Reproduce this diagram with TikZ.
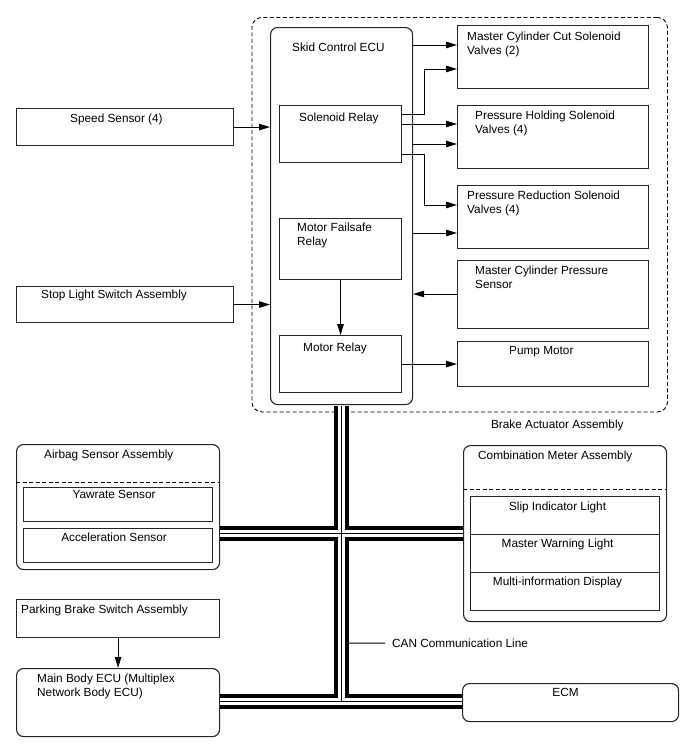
\documentclass[tikz,border=0pt]{standalone}
\usepackage{fontspec}
\setmainfont{Liberation Sans}
\usetikzlibrary{arrows.meta,calc,positioning}

\begin{document}
\begin{tikzpicture}[
  x=1pt, y=-1pt,
  >={Triangle[length=11pt,width=6.5pt]},
  font=\fontsize{11.8}{14.5}\selectfont,
  box/.style={rectangle,draw=black!85,line width=1.1pt,anchor=north west,inner sep=0pt},
  ecubox/.style={box,rounded corners=7pt},
  assy/.style={box,draw=black,line width=0.9pt,dash pattern=on 4pt off 2.5pt,rounded corners=10pt},
  sep/.style={draw=black,line width=0.9pt,dash pattern=on 4pt off 2.5pt},
  sig/.style={->,line width=1pt},
  lbl/.style={anchor=north west,inner sep=0pt,align=left},
  clbl/.style={anchor=north,inner sep=0pt,align=center}
]
\useasboundingbox (0,0) rectangle (688,755);
% brake actuator assembly
\node[assy,minimum width=415.5,minimum height=394.5] (bact) at (251.5,17) {};
\node[ecubox,minimum width=142,minimum height=377] (ecu) at (270,27) {};
\node[box,minimum width=122,minimum height=57] (solrel) at (279,105) {};
\node[box,minimum width=122,minimum height=61] (mfrel) at (279,218) {};
\node[box,minimum width=122,minimum height=57] (mrel) at (279,335) {};
\node[box,minimum width=191,minimum height=63] (mcc) at (457,25) {};
\node[box,minimum width=191,minimum height=63] (phv) at (457,105) {};
\node[box,minimum width=191,minimum height=63] (prv) at (457,185) {};
\node[box,minimum width=191,minimum height=68] (mcps) at (457,260) {};
\node[box,minimum width=191,minimum height=45] (pump) at (457,341) {};
% inputs on the left
\node[box,minimum width=217,minimum height=37] (speed) at (16,108) {};
\node[box,minimum width=217,minimum height=36] (stop) at (16,286) {};
% airbag sensor assembly
\node[ecubox,minimum width=203,minimum height=125] (airbag) at (16,444) {};
\node[box,minimum width=189,minimum height=34] (yaw) at (23,487) {};
\node[box,minimum width=189,minimum height=34] (accel) at (23,528) {};
\draw[sep] ($(airbag.north west)+(0,38)$) -- ($(airbag.north east)+(0,38)$);
% combination meter assembly
\node[ecubox,minimum width=203,minimum height=176] (combi) at (463,445) {};
\node[box,minimum width=189,minimum height=38] (slip) at (470,496) {};
\node[box,minimum width=189,minimum height=38] (mwl) at (470,534) {};
\node[box,minimum width=189,minimum height=38] (mid) at (470,572) {};
\draw[sep] ($(combi.north west)+(0,44)$) -- ($(combi.north east)+(0,44)$);
% lower row
\node[box,minimum width=203,minimum height=38] (pkb) at (16,599) {};
\node[ecubox,minimum width=203,minimum height=68] (mbecu) at (16,668) {};
\node[ecubox,minimum width=216,minimum height=38] (ecm) at (462,683) {};
% signal lines
\draw[sig] ($(ecu.north east)+(0,18)$) -- ($(mcc.north west)+(0,20)$);
\draw[sig] ($(solrel.north east)+(0,9)$) -- ++(22,0) |- ($(mcc.north west)+(0,44)$);
\draw[sig] ($(solrel.north east)+(0,19)$) -- ($(phv.north west)+(0,19)$);
\draw[sig] ($(ecu.north east)+(0,117)$) -- ($(phv.north west)+(0,39)$);
\draw[sig] ($(solrel.north east)+(0,49)$) -- ++(22,0) |- ($(prv.north west)+(0,20)$);
\draw[sig] ($(ecu.north east)+(0,206)$) -- ($(prv.north west)+(0,48)$);
\draw[sig] ($(mcps.north west)+(0,34)$) -- ($(ecu.north east)+(0,267)$);
\draw[sig] (mfrel.south) -- (mrel.north);
\draw[sig] (mrel.east) -- (pump.west);
\draw[sig] (speed.east) -- (ecu.west |- speed.east);
\draw[sig] (stop.east) -- (ecu.west |- stop.east);
\draw[sig] (pkb.south) -- (mbecu.north);
% CAN bus
\coordinate (busmid) at (340,533);
\coordinate (buslow) at (340,701.5);
\foreach \w/\c in {15/black,7/white,0.9/black}{
  \draw[line width=\w pt,draw=\c]
    ($(ecu.south)+(0,0.8)$) -- (ecu.south |- buslow)
    (airbag.east |- busmid) -- (combi.west |- busmid)
    (mbecu.east |- buslow) -- (ecm.west |- buslow);
}
\node[lbl] (canlbl) at (392,638.5) {CAN Communication Line};
\coordinate (cantap) at (347.5,643);
\draw[line width=1pt] ($(canlbl.west)+(-7,0)$) -- (cantap);
% labels
\node[lbl] at ($(ecu.north west)+(22,15.5)$) {Skid Control ECU};
\node[lbl] at ($(mcc.north west)+(10,6.5)$) {Master Cylinder Cut Solenoid\\Valves (2)};
\node[lbl] at ($(solrel.north west)+(20,7.5)$) {Solenoid Relay};
\node[lbl] at ($(phv.north west)+(18,5.5)$) {Pressure Holding Solenoid\\Valves (4)};
\node[lbl] at ($(prv.north west)+(10,5.5)$) {Pressure Reduction Solenoid\\Valves (4)};
\node[lbl] at ($(mfrel.north west)+(18,4.5)$) {Motor Failsafe\\Relay};
\node[lbl] at ($(mcps.north west)+(18,5.5)$) {Master Cylinder Pressure\\Sensor};
\node[lbl] at ($(mrel.north west)+(24,7.5)$) {Motor Relay};
\node[lbl] at ($(pump.north west)+(52,5.5)$) {Pump Motor};
\node[lbl] at ($(speed.north west)+(54,5.5)$) {Speed Sensor (4)};
\node[lbl] at ($(stop.north west)+(25,3.5)$) {Stop Light Switch Assembly};
\node[lbl] at ($(bact.south east)+(-177,7)$) {Brake Actuator Assembly};
\node[lbl] at ($(airbag.north west)+(28,5.5)$) {Airbag Sensor Assembly};
\node[clbl] at ($(yaw.north)+(-4,3.5)$) {Yawrate Sensor};
\node[clbl] at ($(accel.north)+(-4,4.5)$) {Acceleration Sensor};
\node[lbl] at ($(combi.north west)+(15,5.5)$) {Combination Meter Assembly};
\node[clbl] at ($(slip.north)+(-7.5,5.5)$) {Slip Indicator Light};
\node[clbl] at ($(mwl.north)+(-7.5,4.5)$) {Master Warning Light};
\node[clbl] at ($(mid.north)+(-7.5,4.5)$) {Multi-information Display};
\node[lbl] at ($(pkb.north west)+(5,5.5)$) {Parking Brake Switch Assembly};
\node[lbl] at ($(mbecu.north west)+(21,5.5)$) {Main Body ECU (Multiplex\\Network Body ECU)};
\node[clbl] at ($(ecm.north)+(-5,5.5)$) {ECM};
\end{tikzpicture}
\end{document}
